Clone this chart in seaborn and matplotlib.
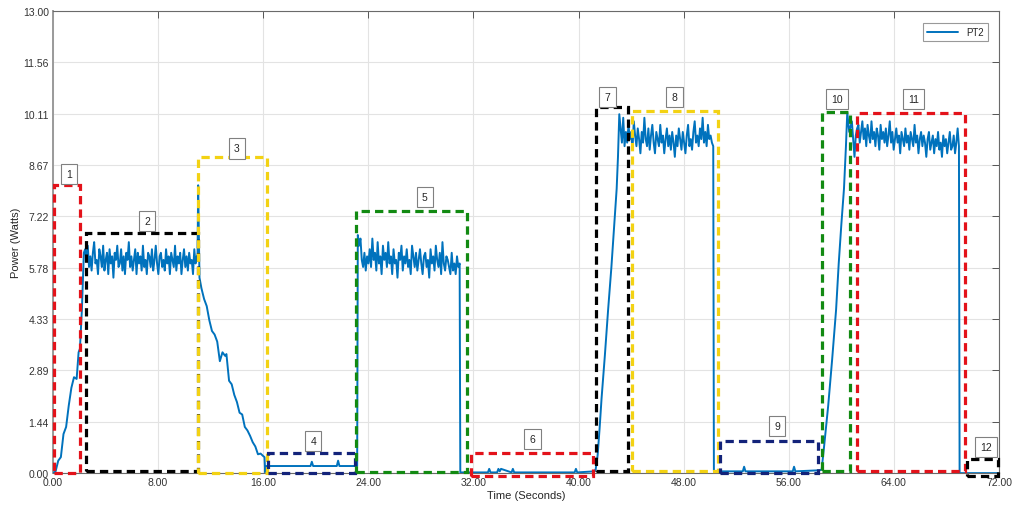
import numpy as np
import pandas as pd
import matplotlib
matplotlib.use("Agg")
import matplotlib.pyplot as plt
import seaborn as sns
from matplotlib.patches import Rectangle

# ---------------- PT2 power trace (Watts vs seconds), piece by piece ----------------
start_t = [0.0, 0.2, 0.4, 0.6, 0.8, 1.0, 1.2, 1.4, 1.6, 1.8, 1.95, 2.05, 2.2, 2.35]
start_p = [0.0, 0.05, 0.35, 0.45, 1.1, 1.3, 1.9, 2.4, 2.7, 2.65, 3.4, 3.5, 4.6, 6.2]

hold1_span = (2.45, 10.95)
hold1_p = [6.3, 6.0, 6.4, 5.8, 6.1, 5.7, 6.2, 6.5, 5.9, 6.0, 5.6, 6.3, 6.1, 5.8, 6.4,
           5.7, 6.0, 6.2, 5.6, 6.3, 5.9, 6.1, 5.5, 6.2, 6.0, 6.4, 5.8, 5.9, 6.3, 5.7,
           6.1, 5.6, 6.2, 6.0, 6.5, 5.8, 6.1, 5.7, 6.0, 6.3, 5.6, 6.2, 5.9, 6.1, 5.7,
           6.4, 5.8, 6.0, 5.6, 6.2, 6.1, 5.8, 6.3, 5.7, 6.0, 6.4, 5.9, 5.6, 6.1, 6.2,
           5.8, 6.0, 5.7, 6.3, 5.9, 6.1, 5.6, 6.2, 6.0, 5.8, 6.4, 5.7, 6.1, 5.9, 6.2,
           5.6, 6.0, 6.3, 5.8, 6.1, 5.7, 6.2, 5.9, 6.0, 5.6, 6.3, 5.9, 6.1]

decay_t = [11.0, 11.05, 11.15, 11.3, 11.5, 11.7, 11.9, 12.1, 12.3, 12.5, 12.7, 12.9,
           13.1, 13.2, 13.4, 13.6, 13.8, 14.0, 14.2, 14.4, 14.6, 14.8, 15.0, 15.2,
           15.4, 15.6, 15.8, 16.0, 16.1, 16.15, 16.25]
decay_p = [6.0, 8.1, 5.5, 5.2, 4.9, 4.7, 4.3, 4.0, 3.9, 3.7, 3.15, 3.4,
           3.3, 3.35, 2.6, 2.5, 2.2, 2.0, 1.7, 1.65, 1.3, 1.2, 1.05, 0.87,
           0.75, 0.53, 0.55, 0.48, 0.45, 0.02, 0.2]

low1_t = [16.3, 19.6, 19.7, 19.8, 21.6, 21.7, 21.8, 23.15]
low1_p = [0.2, 0.2, 0.32, 0.2, 0.2, 0.35, 0.2, 0.2]

hold2_span = (23.2, 30.95)
hold2_p = [6.7, 6.4, 6.6, 6.0, 5.8, 6.2, 5.7, 6.1, 5.9, 6.3, 5.8, 6.6, 6.0, 6.2, 5.7,
           6.5, 5.9, 6.1, 5.6, 6.4, 6.0, 6.2, 5.8, 6.5, 5.9, 6.1, 5.6, 6.3, 5.9, 6.0,
           5.5, 6.2, 6.0, 6.4, 5.7, 6.1, 5.9, 6.3, 5.8, 6.0, 5.6, 6.4, 6.1, 5.8, 6.2,
           5.7, 6.0, 6.3, 5.9, 5.6, 6.1, 6.2, 5.8, 6.0, 5.5, 6.3, 5.9, 6.1, 5.7, 6.4,
           6.0, 5.8, 6.2, 5.6, 6.5, 5.9, 5.7, 6.1, 6.0, 5.8, 5.6, 6.2, 5.7, 5.9, 5.6,
           6.1, 5.8, 5.9]

low2_t = [31.0, 33.1, 33.2, 33.3, 33.8, 33.9, 34.0, 34.1, 34.9, 35.0, 35.1,
          39.7, 39.8, 39.9, 41.2]
low2_p = [0.02, 0.02, 0.12, 0.02, 0.02, 0.12, 0.05, 0.12, 0.02, 0.12, 0.02,
          0.02, 0.12, 0.02, 0.05]

rise1_t = [41.3, 41.45, 41.6, 41.75, 42.0, 42.25, 42.5, 42.7, 42.9, 43.0, 43.1,
           43.2, 43.3, 43.4, 43.5, 43.6]
rise1_p = [0.1, 0.5, 1.25, 2.1, 3.3, 4.6, 5.8, 6.9, 8.0, 8.9, 10.1,
           9.7, 9.3, 10.0, 9.2, 9.6]

hold3_span = (43.7, 50.25)
hold3_p = [9.3, 9.8, 9.4, 9.6, 9.1, 9.9, 9.5, 9.2, 9.7, 9.4, 9.0, 9.6, 9.3, 10.0, 9.4,
           9.2, 9.7, 9.1, 9.5, 9.8, 9.3, 9.0, 9.6, 9.4, 9.2, 9.8, 9.3, 9.5, 9.0, 9.4,
           9.7, 9.2, 9.5, 9.1, 9.6, 9.3, 8.9, 9.5, 9.2, 9.7, 9.4, 9.1, 9.6, 9.3, 9.0,
           9.5, 9.8, 9.2, 9.4, 9.1, 9.6, 9.9, 9.3, 9.5, 9.2, 9.7, 9.4, 10.0, 9.3, 9.6,
           9.2, 9.8, 9.4, 9.5, 9.3, 9.2]

low3_t = [50.3, 52.5, 52.6, 52.7, 56.3, 56.4, 56.5, 58.35]
low3_p = [0.05, 0.05, 0.18, 0.05, 0.05, 0.18, 0.05, 0.08]

rise2_t = [58.5, 58.7, 59.0, 59.3, 59.6, 59.8, 60.0, 60.2, 60.35, 60.45, 60.6,
           60.8, 61.0, 61.1, 61.2]
rise2_p = [0.1, 0.8, 1.9, 3.2, 4.6, 5.9, 7.0, 8.0, 9.2, 10.15, 9.6,
           9.9, 8.9, 9.5, 9.7]

hold4_span = (61.3, 68.95)
hold4_p = [9.8, 9.3, 9.6, 9.9, 9.4, 9.7, 9.2, 9.8, 9.5, 9.3, 9.9, 9.4, 9.6, 9.2, 9.7,
           9.5, 9.1, 9.8, 9.4, 9.6, 9.3, 9.7, 9.2, 9.5, 9.9, 9.3, 9.6, 9.1, 9.4, 9.7,
           9.3, 9.5, 9.0, 9.6, 9.4, 9.2, 9.7, 9.3, 9.5, 9.1, 9.6, 9.4, 9.2, 9.8, 9.3,
           9.5, 9.0, 9.4, 9.6, 9.2, 9.5, 9.3, 8.9, 9.4, 9.6, 9.1, 9.3, 9.5, 9.0, 9.4,
           9.2, 9.6, 9.1, 9.3, 8.9, 9.5, 9.2, 9.4, 9.0, 9.3, 9.6, 9.1, 9.2, 9.5, 9.0,
           9.3, 9.7, 9.2]

tail_t = [69.0, 72.0]
tail_p = [0.0, 0.0]

# ---------------- numbered operating-phase boxes ----------------
box_ids = ["1", "2", "3", "4", "5", "6", "7", "8", "9", "10", "11", "12"]
box_t0 = [0.05, 2.5, 11.05, 16.37, 23.06, 31.8, 41.3, 44.06, 50.8, 58.5, 61.2, 69.6]
box_t1 = [2.05, 11.0, 16.3, 23.0, 31.5, 41.1, 43.76, 50.6, 58.2, 60.65, 69.4, 71.95]
box_p0 = [0.0, 0.06, 0.0, 0.0, 0.03, -0.08, 0.05, 0.05, 0.0, 0.06, 0.06, -0.08]
box_p1 = [8.1, 6.75, 8.89, 0.56, 7.38, 0.56, 10.3, 10.19, 0.9, 10.16, 10.13, 0.39]
box_colors = ["#e3121a", "#000000", "#f3d213", "#13237a", "#128a12", "#e3121a",
              "#000000", "#f3d213", "#13237a", "#128a12", "#e3121a", "#000000"]
label_t = [1.2, 7.15, 14.0, 19.8, 28.3, 36.5, 42.2, 47.3, 55.1, 59.7, 65.5, 71.0]
label_p = [8.41, 7.09, 9.14, 0.9, 7.77, 0.96, 10.58, 10.58, 1.32, 10.52, 10.52, 0.73]

x_ticks = list(range(0, 73, 8))
y_ticks = list(np.linspace(0, 13, 10))


def hold(span, values):
    times = np.linspace(span[0], span[1], len(values))
    return list(times), list(values)


parts = [
    (start_t, start_p),
    hold(hold1_span, hold1_p),
    (decay_t, decay_p),
    (low1_t, low1_p),
    hold(hold2_span, hold2_p),
    (low2_t, low2_p),
    (rise1_t, rise1_p),
    hold(hold3_span, hold3_p),
    (low3_t, low3_p),
    (rise2_t, rise2_p),
    hold(hold4_span, hold4_p),
    (tail_t, tail_p),
]
time_all, power_all = [], []
for t, p in parts:
    time_all += list(t)
    power_all += list(p)
df = pd.DataFrame({"Time": time_all, "Power": power_all})

sns.set_theme(style="whitegrid")
plt.rcParams["font.family"] = ["Liberation Sans", "DejaVu Sans"]

fig = plt.figure(figsize=(10.13, 5.06), dpi=100)
ax = fig.add_axes([0.0523, 0.063, 0.9339, 0.913])
ax.set_facecolor("white")

sns.lineplot(data=df, x="Time", y="Power", ax=ax, estimator=None, sort=False,
             color="#0072BD", linewidth=1.4, label="PT2", zorder=3)

dash = (0, (2.6, 1.6))
for i in range(len(box_ids)):
    rect = Rectangle((box_t0[i], box_p0[i]), box_t1[i] - box_t0[i],
                     box_p1[i] - box_p0[i], fill=False, edgecolor=box_colors[i],
                     linewidth=2.3, linestyle=dash, clip_on=False, zorder=4)
    ax.add_patch(rect)
    ax.text(label_t[i], label_p[i], box_ids[i], ha="center", va="center",
            fontsize=7.5, color="#262626", zorder=5,
            bbox=dict(boxstyle="square,pad=0.5", facecolor="white",
                      edgecolor="#808080", linewidth=0.8))

ax.set_xlim(0, 72)
ax.set_ylim(0, 13)
ax.set_xticks(x_ticks)
ax.set_xticklabels([f"{v:.2f}" for v in x_ticks])
ax.set_yticks(y_ticks)
ax.set_yticklabels([f"{v:.2f}" for v in y_ticks])
ax.grid(True, color="#e3e3e3", linewidth=0.8)
ax.tick_params(direction="in", length=5, width=0.7, color="#555555",
               labelsize=7.5, labelcolor="#333333", top=True, right=True,
               pad=3)
for side, sp in ax.spines.items():
    sp.set_visible(True)
    sp.set_color("#6a6a6a")
    sp.set_linewidth(0.8)
ax.spines["left"].set_linewidth(1.4)
ax.spines["left"].set_color("#9a9a9a")

ax.set_xlabel("Time (Seconds)", fontsize=8, color="#262626", labelpad=2)
ax.set_ylabel("Power (Watts)", fontsize=8, color="#262626", labelpad=1)

leg = ax.legend(loc="upper right", bbox_to_anchor=(0.988, 0.974), borderaxespad=0,
                fontsize=7, handlelength=3.2, frameon=True, fancybox=False)
leg.get_frame().set_edgecolor("#808080")
leg.get_frame().set_linewidth(0.8)

fig.savefig("out.png", dpi=100, facecolor="white")
